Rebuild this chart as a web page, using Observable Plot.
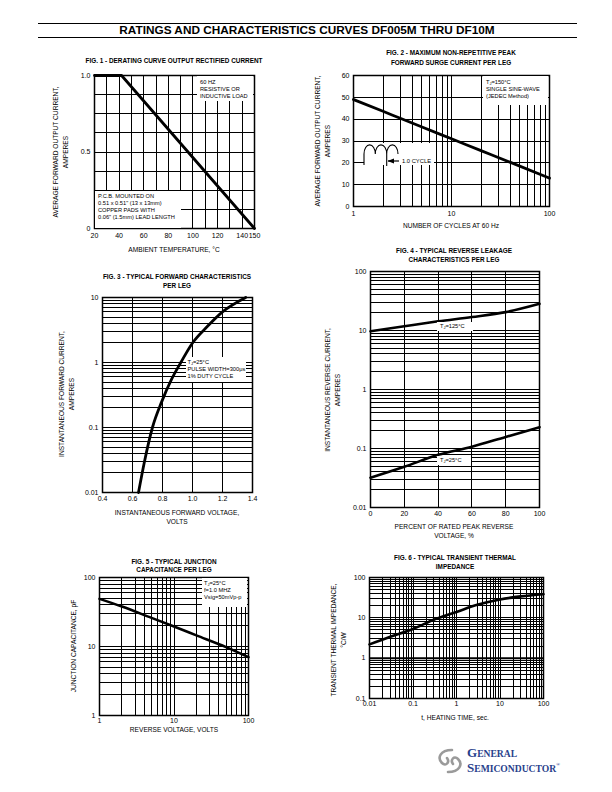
<!DOCTYPE html>
<html><head><meta charset="utf-8">
<script src="https://cdn.jsdelivr.net/npm/d3@7"></script>
<script src="https://cdn.jsdelivr.net/npm/@observablehq/plot@0.6"></script>
<style>
body{margin:0;background:#fff;}
#page{position:relative;width:612px;height:792px;overflow:hidden;font-family:"Liberation Sans",Arial,Helvetica,sans-serif;color:#000;background:#fff;}
.t{position:absolute;white-space:nowrap;line-height:1;}
.box{position:absolute;background:#fff;font-size:5.7px;line-height:7.2px;white-space:nowrap;box-sizing:border-box;}
.box sub,.t sub{font-size:70%;vertical-align:-1px;line-height:0;}
.rule{position:absolute;height:0;border-top:1.3px solid #000;}
</style></head>
<body><div id="page"></div>
<script>
// ---------------- DATA ----------------
// Fig. 1 derating curve
const fig1Temp = [20, 42, 150];
const fig1Current = [1.0, 1.0, 0];
const fig1XTicks = [20, 40, 60, 80, 100, 120, 140, 150];
const fig1YTicks = [0, 0.5, 1.0];
const fig1YTickLabels = ["0", "0.5", "1.0"];
const fig1GridX = [30, 40, 50, 60, 70, 80, 90, 100, 110, 120, 130, 140];
const fig1GridY = [0.125, 0.25, 0.375, 0.5, 0.625, 0.75, 0.875];

// Fig. 2 surge current
const fig2Cycles = [1, 2, 3, 5, 10, 20, 40, 100];
const fig2Amps = [49, 43.6, 40.4, 36.4, 31, 25.6, 20.2, 13];
const fig2XTicks = [1, 10, 100];
const fig2YTicks = [0, 10, 20, 30, 40, 50, 60];

// Fig. 3 forward characteristics
const fig3Volts = [0.64, 0.68, 0.733, 0.795, 0.86, 0.922, 1.0, 1.1, 1.2, 1.355];
const fig3Amps = [0.01, 0.03, 0.1, 0.25, 0.55, 1, 2, 3.6, 6, 10];
const fig3XTicks = [0.4, 0.6, 0.8, 1.0, 1.2, 1.4];
const fig3YTicks = [0.01, 0.1, 1, 10];

// Fig. 4 reverse leakage
const fig4Percent = [0, 20, 40, 60, 80, 100];
const fig4Ir125 = [9.7, 11.8, 14.3, 16.9, 20.5, 28.4];
const fig4Ir25 = [0.032, 0.049, 0.078, 0.107, 0.157, 0.23];
const fig4XTicks = [0, 20, 40, 60, 80, 100];
const fig4YTicks = [0.01, 0.1, 1, 10, 100];

// Fig. 5 junction capacitance
const fig5Volts = [1, 2, 5, 10, 20, 50, 100];
const fig5Cap = [49, 38, 26, 19.5, 14.5, 9.8, 7];
const fig5XTicks = [1, 10, 100];
const fig5YTicks = [1, 10, 100];

// Fig. 6 transient thermal impedance
const fig6Time = [0.01, 0.03, 0.1, 0.3, 1, 3, 10, 30, 100];
const fig6Z = [2.2, 3.4, 5.3, 9, 14, 21, 28.5, 34, 38.5];
const fig6XTicks = [0.01, 0.1, 1, 10, 100];
const fig6YTicks = [0.1, 1, 10, 100];

// ---------------- HELPERS ----------------
const page = document.getElementById("page");
const FONT = '"Liberation Sans", Arial, Helvetica, sans-serif';

function logGrid(lo, hi) {
  const out = [];
  for (let d = lo; d < hi; d *= 10) for (let k = 1; k <= 10; k++) out.push(+(d * k).toPrecision(3));
  return Array.from(new Set(out));
}
const toRows = (xs, ys) => xs.map((x, i) => ({x, y: ys[i]}));

function text(html, x, y, o = {}) {
  const d = document.createElement("div");
  d.className = "t";
  d.innerHTML = html;
  d.style.left = x + "px";
  d.style.top = y + "px";
  d.style.fontSize = (o.size || 6.6) + "px";
  if (o.bold) d.style.fontWeight = "bold";
  const tx = o.align === "left" ? "0" : o.align === "right" ? "-100%" : "-50%";
  d.style.transform = `translate(${tx},-50%)` + (o.rotate ? " rotate(-90deg)" : "");
  page.appendChild(d);
  return d;
}
function box(lines, l, t, w, h, pl, pt) {
  const d = document.createElement("div");
  d.className = "box";
  Object.assign(d.style, {left: l + "px", top: t + "px", width: w + "px", height: h + "px", paddingLeft: pl + "px", paddingTop: pt + "px"});
  d.innerHTML = lines.join("<br>");
  page.appendChild(d);
}
function rule(l, t, w) {
  const d = document.createElement("div");
  d.className = "rule";
  Object.assign(d.style, {left: l + "px", top: t + "px", width: w + "px"});
  page.appendChild(d);
}

function figure({frame: [l, t, r, b], x, y, gridX, gridY, marks, xTicks, yTicks, xFormat, yFormat, xPad = 5}) {
  const ml = 32, mr = 14, mt = 6, mb = 18;
  const chart = Plot.plot({
    width: r - l + ml + mr,
    height: b - t + mt + mb,
    marginLeft: ml, marginRight: mr, marginTop: mt, marginBottom: mb,
    x: {...x}, y: {...y},
    style: {fontFamily: FONT, fontSize: "7px", color: "#000", background: "transparent", overflow: "visible"},
    marks: [
      Plot.ruleX(gridX, {stroke: "#000", strokeWidth: 1, shapeRendering: "crispEdges"}),
      Plot.ruleY(gridY, {stroke: "#000", strokeWidth: 1, shapeRendering: "crispEdges"}),
      Plot.frame({stroke: "#000", strokeWidth: 1.5}),
      Plot.axisX({ticks: xTicks, tickSize: 0, tickPadding: xPad, label: null, tickFormat: xFormat, fill: "#000"}),
      Plot.axisY({ticks: yTicks, tickSize: 0, tickPadding: 4, label: null, tickFormat: yFormat, fill: "#000"}),
      ...marks
    ]
  });
  chart.style.position = "absolute";
  chart.style.maxWidth = "none";
  chart.style.left = (l - ml) + "px";
  chart.style.top = (t - mt) + "px";
  page.appendChild(chart);
  return chart;
}
const curve = (xs, ys, w = 2.8, c = "monotone-x") => Plot.line(toRows(xs, ys), {x: "x", y: "y", stroke: "#000", strokeWidth: w, curve: c});
const plain = d => String(d);

// ---------------- PAGE TITLE ----------------
rule(38, 23, 539);
rule(38, 37, 539);
text("RATINGS AND CHARACTERISTICS CURVES DF005M THRU DF10M", 307, 30.5, {size: 11.8, bold: true});

// ---------------- FIG 1 ----------------
figure({
  frame: [94, 75, 254, 228],
  x: {domain: [20, 150]}, y: {domain: [0, 1]},
  gridX: fig1GridX, gridY: fig1GridY,
  xTicks: fig1XTicks, yTicks: fig1YTicks,
  xFormat: plain, yFormat: d => fig1YTickLabels[fig1YTicks.indexOf(d)],
  marks: [curve(fig1Temp, fig1Current, 2.8, "linear")]
});
text("FIG. 1 - DERATING CURVE OUTPUT RECTIFIED CURRENT", 174, 61, {size: 6.4, bold: true});
text("AMBIENT TEMPERATURE, °C", 174, 250);
text("AVERAGE FORWARD OUTPUT CURRENT,", 56, 152, {rotate: true});
text("AMPERES", 66, 152, {rotate: true});

// ---------------- FIG 2 ----------------
figure({
  frame: [353, 75, 549, 206],
  x: {type: "log", domain: [1, 100]}, y: {domain: [0, 60]},
  gridX: logGrid(1, 100), gridY: fig2YTicks,
  xTicks: fig2XTicks, yTicks: fig2YTicks,
  xFormat: plain, yFormat: plain,
  marks: [curve(fig2Cycles, fig2Amps, 2.8)]
});
text("FIG. 2 - MAXIMUM NON-REPETITIVE PEAK", 451, 53, {size: 6.4, bold: true});
text("FORWARD SURGE CURRENT PER LEG", 451, 63, {size: 6.4, bold: true});
text("NUMBER OF CYCLES AT 60 Hz", 451, 226);
text("AVERAGE FORWARD OUTPUT CURRENT,", 318, 141, {rotate: true});
text("AMPERES", 328, 141, {rotate: true});

// ---------------- FIG 3 ----------------
figure({
  frame: [102, 297, 252, 492],
  x: {domain: [0.4, 1.4]}, y: {type: "log", domain: [0.01, 10]},
  gridX: [0.6, 0.8, 1.0, 1.2], gridY: logGrid(0.01, 10),
  xTicks: fig3XTicks, yTicks: fig3YTicks,
  xFormat: d3.format(".1f"), yFormat: plain, xPad: 4,
  marks: [curve(fig3Volts, fig3Amps, 2.8)]
});
text("FIG. 3 - TYPICAL FORWARD CHARACTERISTICS", 177, 277, {size: 6.4, bold: true});
text("PER LEG", 177, 286, {size: 6.4, bold: true});
text("INSTANTANEOUS FORWARD VOLTAGE,", 177, 513);
text("VOLTS", 177, 522);
text("INSTANTANEOUS FORWARD CURRENT,", 62, 394, {rotate: true});
text("AMPERES", 72, 394, {rotate: true});

// ---------------- FIG 4 ----------------
figure({
  frame: [370, 271, 539, 507],
  x: {domain: [0, 100]}, y: {type: "log", domain: [0.01, 100]},
  gridX: fig4XTicks, gridY: logGrid(0.01, 100),
  xTicks: fig4XTicks, yTicks: fig4YTicks,
  xFormat: plain, yFormat: plain, xPad: 4,
  marks: [curve(fig4Percent, fig4Ir125, 2.6), curve(fig4Percent, fig4Ir25, 2.6)]
});
text("FIG. 4 - TYPICAL REVERSE LEAKAGE", 454, 251, {size: 6.4, bold: true});
text("CHARACTERISTICS PER LEG", 454, 260, {size: 6.4, bold: true});
text("PERCENT OF RATED PEAK REVERSE", 454, 527);
text("VOLTAGE, %", 454, 536);
text("INSTANTANEOUS REVERSE CURRENT,", 328, 390, {rotate: true});
text("AMPERES", 338, 390, {rotate: true});

// ---------------- FIG 5 ----------------
figure({
  frame: [99, 577, 248, 715],
  x: {type: "log", domain: [1, 100]}, y: {type: "log", domain: [1, 100]},
  gridX: logGrid(1, 100), gridY: logGrid(1, 100),
  xTicks: fig5XTicks, yTicks: fig5YTicks,
  xFormat: plain, yFormat: plain, xPad: 3,
  marks: [curve(fig5Volts, fig5Cap, 2.6)]
});
text("FIG. 5 - TYPICAL JUNCTION", 174, 562, {size: 6.4, bold: true});
text("CAPACITANCE PER LEG", 174, 570, {size: 6.4, bold: true});
text("REVERSE VOLTAGE, VOLTS", 174, 730);
text("JUNCTION CAPACITANCE, pF", 74, 646, {rotate: true});

// ---------------- FIG 6 ----------------
figure({
  frame: [369, 577, 543, 698],
  x: {type: "log", domain: [0.01, 100]}, y: {type: "log", domain: [0.1, 100]},
  gridX: logGrid(0.01, 100), gridY: logGrid(0.1, 100),
  xTicks: fig6XTicks, yTicks: fig6YTicks,
  xFormat: plain, yFormat: plain, xPad: 3,
  marks: [Plot.ruleY([1], {stroke: "#000", strokeWidth: 2}), curve(fig6Time, fig6Z, 2.6)]
});
text("FIG. 6 - TYPICAL TRANSIENT THERMAL", 455, 558, {size: 6.4, bold: true});
text("IMPEDANCE", 455, 567, {size: 6.4, bold: true});
text("t, HEATING TIME, sec.", 455, 718);
text("TRANSIENT THERMAL IMPEDANCE,", 334, 640, {rotate: true});
text("°C/W", 344, 640, {rotate: true});

// ---------------- ANNOTATION BOXES ----------------
box(["60 HZ", "RESISTIVE OR", "INDUCTIVE LOAD"], 197, 76, 56, 25, 3, 3);
box(["P.C.B. MOUNTED ON", "0.51 x 0.51\" (13 x 13mm)", "COPPER PADS WITH", "0.06\" (1.5mm) LEAD LENGTH"], 95, 191, 86, 37, 3, 1.5);
box(["T<sub>J</sub>=150°C", "SINGLE SINE-WAVE", "(JEDEC Method)"], 483, 76, 65, 29, 3, 3);
box(["T<sub>J</sub>=25°C", "PULSE WIDTH=300μs", "1% DUTY CYCLE"], 186, 357, 60, 25, 1.5, 1.5);
box(["T<sub>J</sub>=125°C"], 437, 322, 36, 9, 3, 1);
box(["T<sub>J</sub>=25°C"], 437, 456, 34, 9, 3, 1);
box(["T<sub>J</sub>=25°C", "f=1.0 MHZ", "Vsig=50mVp-p"], 202, 578, 45, 29, 2, 1.5);

// Fig. 2 cycle glyph and logo
const g = document.createElementNS("http://www.w3.org/2000/svg", "svg");
g.setAttribute("width", 612); g.setAttribute("height", 792);
g.style.position = "absolute"; g.style.left = "0"; g.style.top = "0"; g.style.overflow = "visible";
g.innerHTML = `
<rect x="364" y="143" width="70" height="22" fill="#fff"/>
<path d="M364,165 V154 A5.6,9 0 0 1 375.3,154 A5.6,9 0 0 1 386.7,154 A5.6,9 0 0 1 398,154" fill="none" stroke="#000" stroke-width="1.1"/>
<path d="M386.7,154 V166" fill="none" stroke="#000" stroke-width="1.1"/>
<path d="M388,161 L399,161" stroke="#000" stroke-width="1.2"/>
<path d="M387.5,161 L394,158.6 L394,163.4 Z" fill="#000"/>
<text x="402" y="163" font-size="5.8" font-family='Liberation Sans, Arial, sans-serif'>1.0 CYCLE</text>
<g fill="none" stroke="#9a9a9a" stroke-width="2.6" stroke-linecap="round">
  <path d="M452,750 C440,750 437,758 442,763 C446,767 450,762 447,758"/>
  <path d="M448,772 C460,772 463,764 458,759 C454,755 450,760 453,764"/>
</g>
<text x="467" y="756.5" fill="#27408b" font-family='Liberation Serif, DejaVu Serif, serif' font-weight="bold"><tspan font-size="13">G</tspan><tspan font-size="9.6">ENERAL</tspan></text>
<text x="467" y="771.5" fill="#27408b" font-family='Liberation Serif, DejaVu Serif, serif' font-weight="bold"><tspan font-size="13">S</tspan><tspan font-size="9.6">EMICONDUCTOR</tspan><tspan font-size="5" dy="-6">®</tspan></text>
`;
page.appendChild(g);
</script>
</body></html>
